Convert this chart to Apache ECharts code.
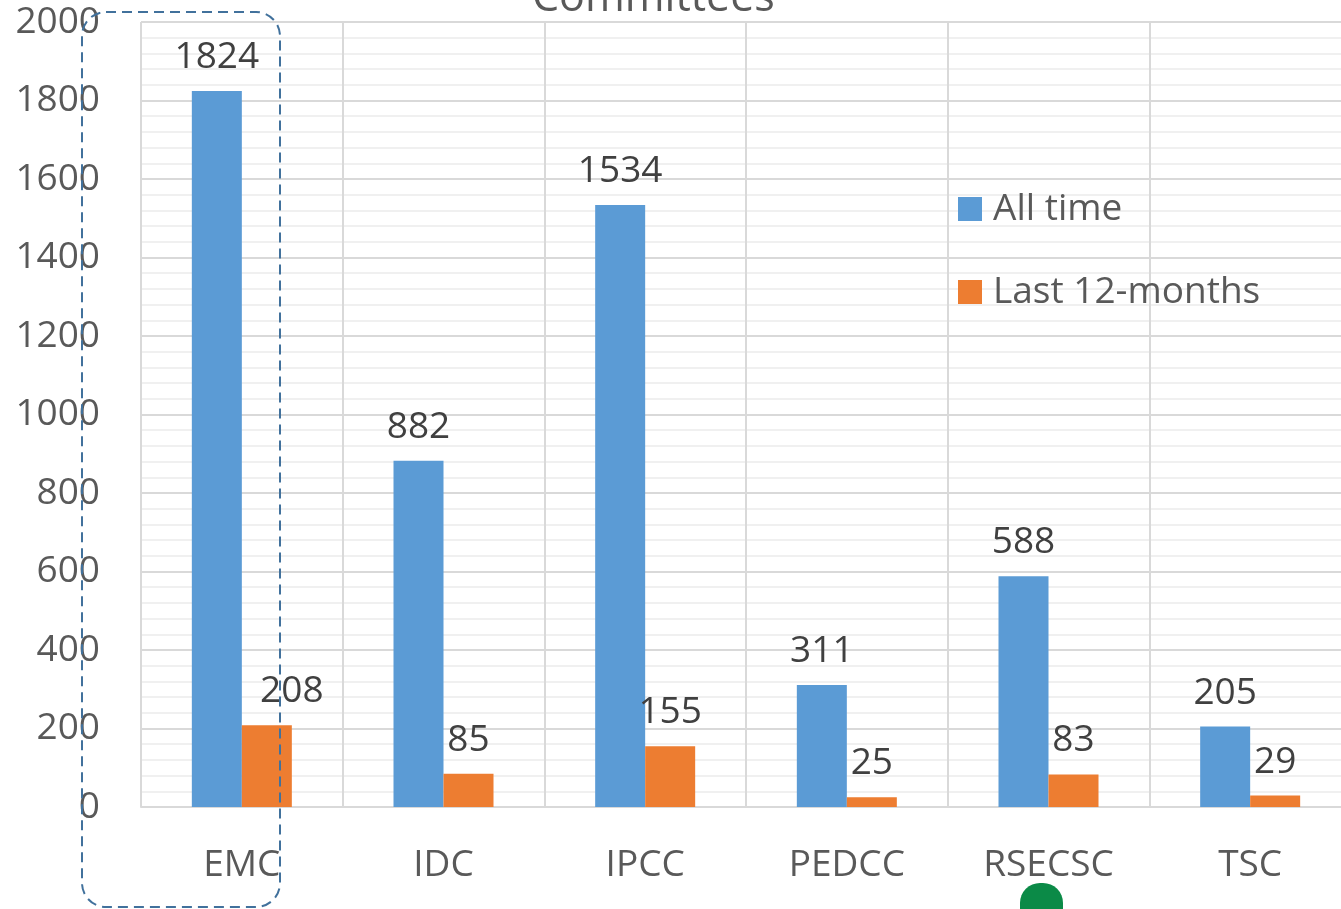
<!DOCTYPE html>
<html>
<head>
<meta charset="utf-8">
<script src="https://cdn.jsdelivr.net/npm/echarts@6/dist/echarts.min.js"></script>
<style>html,body{margin:0;padding:0;background:#fff;overflow:hidden;width:1341px;height:909px}#c{width:1351px;height:909px}</style>
</head>
<body>
<div id="c"></div>
<script>
const categories = ['EMC', 'IDC', 'IPCC', 'PEDCC', 'RSECSC', 'TSC'];
const allTime = [1824, 882, 1534, 311, 588, 205];
const last12 = [208, 85, 155, 25, 83, 29];
const seriesNames = ['All time', 'Last 12-months'];
const titleText = 'Committees';

const FONT = '"Open Sans", sans-serif';
const chart = echarts.init(document.getElementById('c'));
chart.setOption({
  animation: false,
  backgroundColor: '#fff',
  title: {
    text: titleText, left: 527, top: -28,
    textStyle: { fontFamily: FONT, fontSize: 43, fontWeight: 'normal', color: '#595959' }
  },
  legend: {
    orient: 'vertical', left: 953, top: 182,
    itemWidth: 24, itemHeight: 24, itemGap: 39, icon: 'rect',
    data: seriesNames,
    textStyle: { fontFamily: FONT, fontSize: 37, color: '#595959', lineHeight: 44, padding: [0, 0, 0, 6] }
  },
  grid: { left: 141, top: 22, right: 0, bottom: 102, containLabel: false },
  xAxis: {
    type: 'category', data: categories, boundaryGap: true,
    axisLine: { show: true, lineStyle: { color: '#D9D9D9', width: 2 } },
    axisTick: { show: false },
    splitLine: { show: true, lineStyle: { color: '#D9D9D9', width: 2 } },
    axisLabel: { fontFamily: FONT, fontSize: 37, color: '#595959', margin: 40 }
  },
  yAxis: {
    type: 'value', min: 0, max: 2000, interval: 200,
    axisLine: { show: false }, axisTick: { show: false },
    axisLabel: { fontFamily: FONT, fontSize: 37, color: '#595959', margin: 41, formatter: v => String(v) },
    splitLine: { lineStyle: { color: '#D9D9D9', width: 2 } },
    minorTick: { show: false, splitNumber: 5 },
    minorSplitLine: { show: true, lineStyle: { color: '#F0F0F0', width: 2 } }
  },
  series: [
    {
      name: seriesNames[0], type: 'bar', data: allTime, barWidth: 50, barGap: '0%',
      itemStyle: { color: '#5B9BD5' },
      label: { show: true, position: 'top', distance: 15, fontFamily: FONT, fontSize: 37, color: '#404040' }
    },
    {
      name: seriesNames[1], type: 'bar', barWidth: 50, barGap: '0%',
      data: last12.map((v, i) => i === 0 ? { value: v, label: { offset: [25, 0] } } : v),
      itemStyle: { color: '#ED7D31' },
      label: { show: true, position: 'top', distance: 15, fontFamily: FONT, fontSize: 37, color: '#404040' }
    }
  ],
  graphic: [
    {
      type: 'rect', z: 100, silent: true,
      shape: { x: 82, y: 12, width: 198, height: 895, r: 24 },
      style: { fill: 'none', stroke: '#41719C', lineWidth: 2, lineDash: [10, 6] }
    },
    {
      type: 'rect', z: 100, silent: true,
      shape: { x: 1020, y: 883, width: 43, height: 40, r: [20, 20, 0, 0] },
      style: { fill: '#0B8A47' }
    }
  ]
});
</script>
</body>
</html>
